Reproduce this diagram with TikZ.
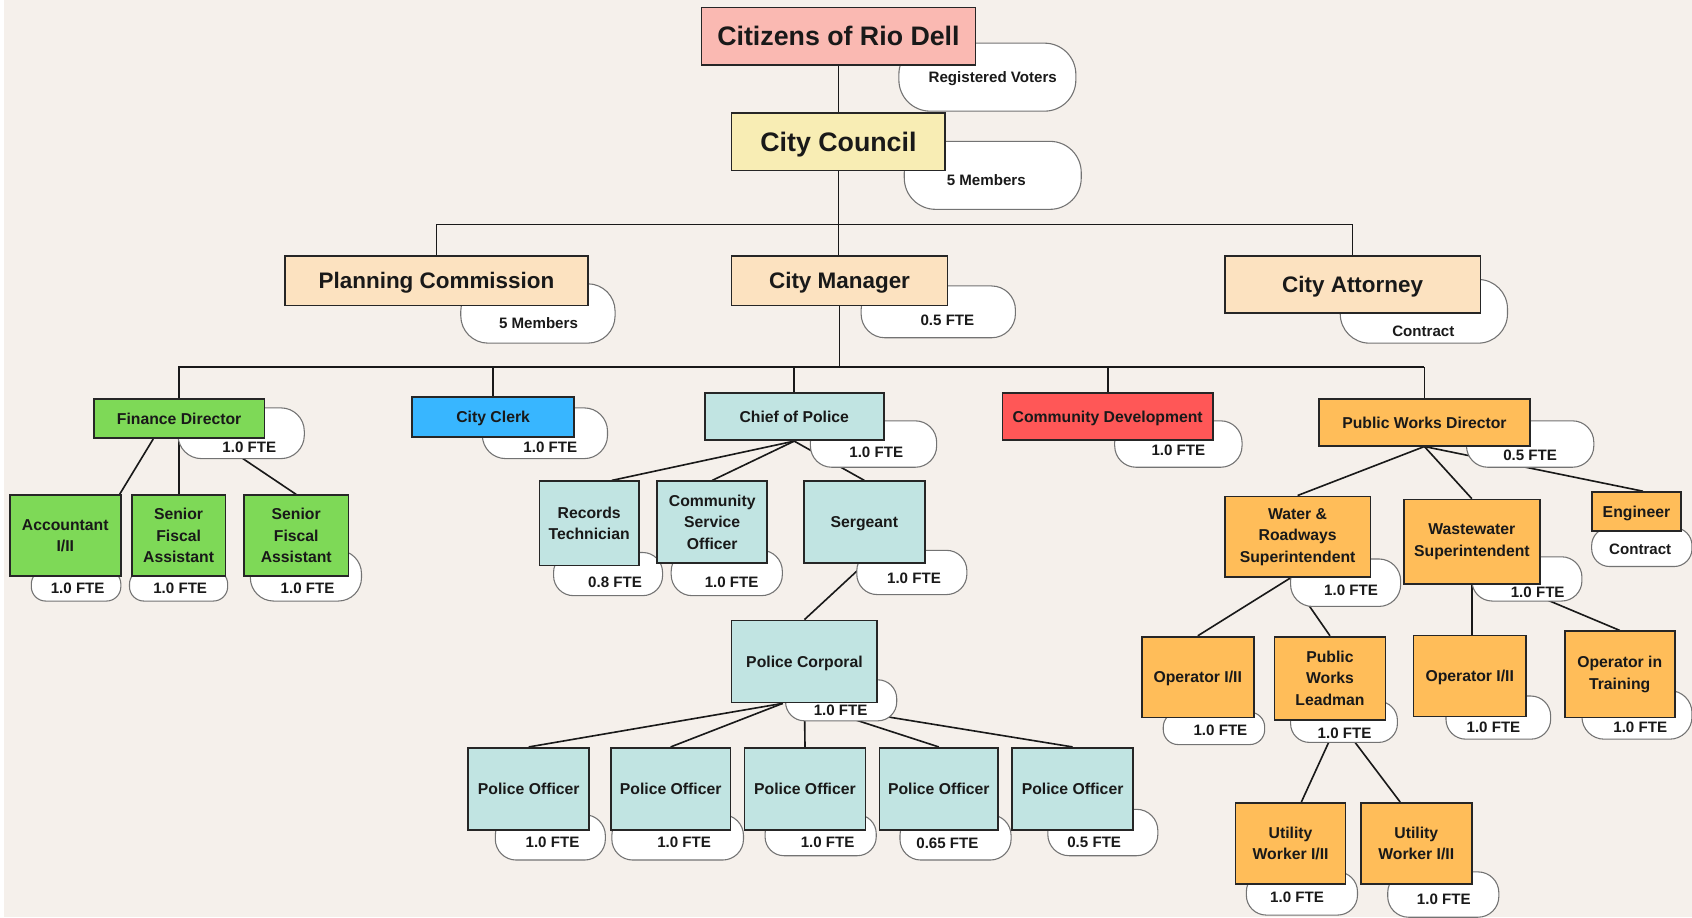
\documentclass[tikz,border=0pt]{standalone}
\usepackage{fontspec}
\setmainfont{Liberation Sans}
\usetikzlibrary{calc}
\pgfdeclarelayer{back}\pgfdeclarelayer{lines}\pgfdeclarelayer{tabs}
\pgfsetlayers{back,lines,tabs,main}
\definecolor{bgc}{HTML}{F5F0EB}
\definecolor{pinkc}{HTML}{FAB9B2}
\definecolor{yelc}{HTML}{F8EDB4}
\definecolor{peachc}{HTML}{FCE2C0}
\definecolor{greenc}{HTML}{7ED957}
\definecolor{bluec}{HTML}{38B6FF}
\definecolor{tealc}{HTML}{C1E4E2}
\definecolor{redc}{HTML}{FF5757}
\definecolor{orangec}{HTML}{FFBD59}
\newcommand\fA{\fontsize{12.4}{14}\selectfont\bfseries}
\newcommand\fB{\fontsize{10.4}{12}\selectfont\bfseries}
\newcommand\fC{\fontsize{7.3}{10}\selectfont\bfseries}
\newcommand\fT{\fontsize{7}{8}\selectfont\bfseries}
\tikzset{
  box/.style={draw=black!85,line width=0.8pt,inner sep=1pt,align=center,text=black!90},
  capA/.style={text height=8.9pt,text depth=0pt},
  capB/.style={text height=7.45pt,text depth=0pt},
  capC/.style={text height=5.2pt,text depth=0pt},
  multi/.style={yshift=-0.5pt},
  tabline/.style={draw=black!55,line width=0.5pt,fill=white},
  tabtext/.style={inner sep=0pt,font=\fT,text=black!90,text height=5pt,text depth=0pt},
  conn/.style={draw=black!90,line width=0.75pt}
}
% name, x1, y1, x2, y2, fill, text, font, extra style
\newcommand\bx[9]{\node[box,fill=#6,font=#8,minimum width={(#4-#2)*0.5pt},minimum height={(#5-#3)*0.5pt},#9] (#1) at ({(#2+#4)/2},{(#3+#5)/2}) {#7};}
% name, x1, y1, x2, y2, tx, ty, text
\newcommand\tb[8]{%
  \begin{pgfonlayer}{tabs}
  \pgfmathsetmacro\tabr{0.23*min(#5-#3,#4-#2)}
  \draw[tabline,rounded corners=\tabr pt] (#2,#3) rectangle (#4,#5);
  \end{pgfonlayer}
  \node[tabtext] (#1) at (#6,#7) {#8};}
\begin{document}
\begin{tikzpicture}[x=0.5pt,y=-0.5pt]
\begin{pgfonlayer}{back}
\fill[bgc] (0,0) rectangle (1568,850);
\fill[white] (0,0) rectangle (3.7,850);
\end{pgfonlayer}
\useasboundingbox (0,0) rectangle (1568,850);
% boxes
\bx{cit}{650}{7}{904}{60}{pinkc}{Citizens of Rio Dell}{\fA}{capA}
\bx{council}{678}{105}{876}{158}{yelc}{City Council}{\fA}{capA}
\bx{plan}{264}{237}{545}{283}{peachc}{Planning Commission}{\fB}{capB}
\bx{mgr}{678}{237}{878}{283}{peachc}{City Manager}{\fB}{capB}
\bx{att}{1135}{237}{1372}{290}{peachc}{City Attorney}{\fB}{capB}
\bx{fin}{87}{370}{245}{406}{greenc}{Finance Director}{\fC}{capC}
\bx{clerk}{382}{368}{532}{405}{bluec}{City Clerk}{\fC}{capC}
\bx{chief}{653}{364}{819}{408}{tealc}{Chief of Police}{\fC}{capC}
\bx{cd}{929}{364}{1124}{408}{redc}{Community Development}{\fC}{capC}
\bx{pwd}{1222}{370}{1418}{413}{orangec}{Public Works Director}{\fC}{capC}
\bx{acc}{9}{458}{112}{533}{greenc}{Accountant\\I/II}{\fC}{multi}
\bx{sfa1}{122}{458}{209}{533}{greenc}{Senior\\Fiscal\\Assistant}{\fC}{multi}
\bx{sfa2}{226}{458}{323}{533}{greenc}{Senior\\Fiscal\\Assistant}{\fC}{multi}
\bx{rec}{500}{445}{592}{523}{tealc}{Records\\Technician}{\fC}{multi}
\bx{cso}{609}{445}{711}{521}{tealc}{Community\\Service\\Officer}{\fC}{multi}
\bx{sgt}{745}{446}{857}{522}{tealc}{Sergeant}{\fC}{capC}
\bx{cpl}{678}{575}{813}{651}{tealc}{Police Corporal}{\fC}{capC}
\bx{po1}{434}{693}{546}{769}{tealc}{Police Officer}{\fC}{capC}
\bx{po2}{566}{693}{677}{769}{tealc}{Police Officer}{\fC}{capC}
\bx{po3}{690}{693}{802}{769}{tealc}{Police Officer}{\fC}{capC}
\bx{po4}{815}{693}{925}{769}{tealc}{Police Officer}{\fC}{capC}
\bx{po5}{938}{693}{1050}{769}{tealc}{Police Officer}{\fC}{capC}
\bx{wr}{1135}{459}{1270}{534}{orangec}{Water \&\\Roadways\\Superintendent}{\fC}{multi}
\bx{ww}{1301}{462}{1427}{540}{orangec}{Wastewater\\Superintendent}{\fC}{multi}
\bx{eng}{1475}{456}{1558}{492}{orangec}{Engineer}{\fC}{capC}
\bx{op1}{1058}{590}{1162}{665}{orangec}{Operator I/II}{\fC}{capC}
\bx{lead}{1181}{589}{1284}{666}{orangec}{Public\\Works\\Leadman}{\fC}{multi}
\bx{op2}{1310}{589}{1414}{664}{orangec}{Operator I/II}{\fC}{capC}
\bx{oit}{1450}{584}{1552}{664}{orangec}{Operator in\\Training}{\fC}{multi}
\bx{uw1}{1145}{743}{1247}{818}{orangec}{Utility\\Worker I/II}{\fC}{multi}
\bx{uw2}{1261}{743}{1364}{818}{orangec}{Utility\\Worker I/II}{\fC}{multi}
% tabs
\tb{t1}{833}{40}{997}{103}{920}{71}{Registered Voters}
\tb{t2}{838}{131}{1002}{194}{914}{167}{5 Members}
\tb{t3}{427}{263}{570}{318}{499}{299}{5 Members}
\tb{t4}{798}{265}{941}{313}{878}{297}{0.5 FTE}
\tb{t5}{1242}{259}{1397}{318}{1319}{307}{Contract}
\tb{t6}{165}{378}{282}{425}{231}{414}{1.0 FTE}
\tb{t7}{447}{378}{563}{425}{510}{414}{1.0 FTE}
\tb{t8}{751}{390}{868}{433}{812}{419}{1.0 FTE}
\tb{t9}{1033}{390}{1151}{433}{1092}{417}{1.0 FTE}
\tb{t10}{1359}{390}{1477}{433}{1418}{422}{0.5 FTE}
\tb{t11}{29}{528}{112}{557}{72}{545}{1.0 FTE}
\tb{t12}{120}{528}{211}{557}{167}{545}{1.0 FTE}
\tb{t13}{232}{510}{335}{557}{285}{545}{1.0 FTE}
\tb{t14}{513}{512}{614}{552}{570}{539}{0.8 FTE}
\tb{t15}{622}{510}{725}{552}{678}{539}{1.0 FTE}
\tb{t16}{794}{510}{896}{551}{847}{536}{1.0 FTE}
\tb{t17}{728}{630}{831}{668}{779}{658}{1.0 FTE}
\tb{t18}{459}{755}{561}{797}{512}{780}{1.0 FTE}
\tb{t19}{567}{755}{689}{797}{634}{780}{1.0 FTE}
\tb{t20}{709}{755}{812}{793}{767}{780}{1.0 FTE}
\tb{t21}{834}{755}{937}{797}{878}{781}{0.65 FTE}
\tb{t22}{971}{750}{1073}{793}{1014}{780}{0.5 FTE}
\tb{t23}{1196}{518}{1298}{562}{1252}{547}{1.0 FTE}
\tb{t24}{1364}{516}{1466}{557}{1425}{549}{1.0 FTE}
\tb{t25}{1475}{489}{1568}{525}{1520}{509}{Contract}
\tb{t26}{1078}{660}{1172}{690}{1131}{677}{1.0 FTE}
\tb{t27}{1196}{650}{1295}{688}{1246}{679}{1.0 FTE}
\tb{t28}{1340}{645}{1437}{685}{1384}{674}{1.0 FTE}
\tb{t29}{1466}{640}{1568}{685}{1520}{674}{1.0 FTE}
\tb{t30}{1155}{808}{1258}{848}{1202}{831}{1.0 FTE}
\tb{t31}{1286}{808}{1389}{850}{1338}{833}{1.0 FTE}
% connectors
\begin{pgfonlayer}{lines}
\draw[conn] (cit.south) -- (cit.south |- council.north);
\draw[conn] (council.south) -- (council.south |- mgr.north);
\draw[conn] (plan.north) -- ++(0,-28) -| (att.north);
\coordinate (h3L) at (165,340);
\coordinate (h3R) at (1320,340);
\draw[conn] (h3L) -- (h3R);
\draw[conn] (mgr.south) -- (mgr.south |- h3L);
\draw[conn] (fin.north) -- (fin.north |- h3L);
\draw[conn] (clerk.north) -- (clerk.north |- h3L);
\draw[conn] (chief.north) -- (chief.north |- h3L);
\draw[conn] (cd.north) -- (cd.north |- h3L);
\draw[conn] (h3R) -- (pwd.north);
\draw[conn] ($(fin.south)+(-24,0)$) -- ($(acc.north east)+(-2,0)$);
\draw[conn] (fin.south) -- (fin.south |- sfa1.north);
\draw[conn] ($(fin.south)+(32,0)$) -- (sfa2.north);
\draw[conn] (chief.south) -- ($(rec.north)+(21,0)$);
\draw[conn] (chief.south) -- (cso.north);
\draw[conn] (chief.south) -- (sgt.north);
\draw[conn] (sgt.south) -- (cpl.north);
\coordinate (cplo) at ($(cpl.south)+(-20,0)$);
\draw[conn] (cplo) -- (po1.north);
\draw[conn] (cplo) -- (po2.north);
\draw[conn] (cpl.south) -- (po3.north);
\draw[conn] (cpl.south) -- (po4.north);
\draw[conn] (cpl.south) -- (po5.north);
\draw[conn] (pwd.south) -- (wr.north);
\draw[conn] (pwd.south) -- (ww.north);
\draw[conn] (pwd.south) -- ($(eng.north)+(6,0)$);
\coordinate (wro) at ($(wr.south)+(-7,0)$);
\draw[conn] (wro) -- (op1.north);
\draw[conn] (wro) -- (lead.north);
\draw[conn] (ww.south) -- (ww.south |- op2.north);
\draw[conn] ($(ww.south)+(36,0)$) -- (oit.north);
\coordinate (leado) at ($(lead.south)+(8,0)$);
\draw[conn] (leado) -- ($(uw1.north)+(10,0)$);
\draw[conn] (leado) -- ($(uw2.north)+(-15,0)$);
\end{pgfonlayer}
\end{tikzpicture}
\end{document}
